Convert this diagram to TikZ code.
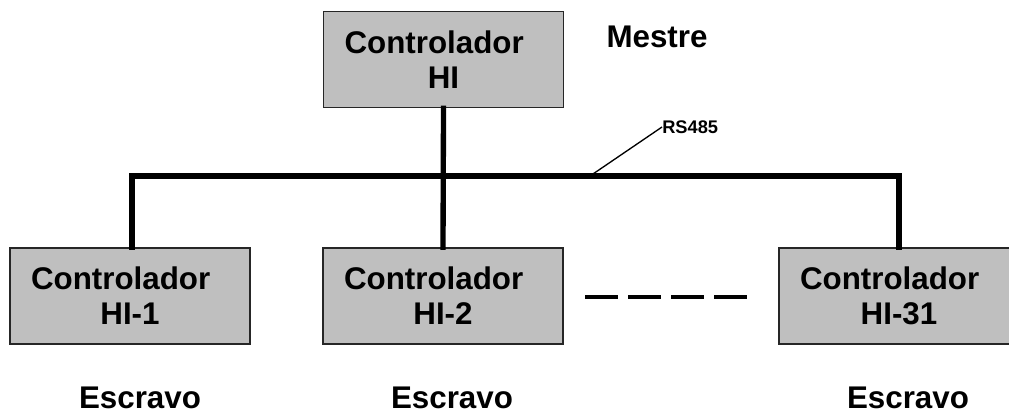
\documentclass[tikz,border=0pt]{standalone}
\usepackage{fontspec}
\setmainfont{Liberation Sans}
\begin{document}
\begin{tikzpicture}[x=0.75pt,y=-0.75pt,
  ctrl/.style={draw=black!85, line width=1.3pt, fill=black!25, minimum width=180pt, minimum height=72pt,
    inner sep=0pt, align=center, font=\bfseries\fontsize{23.5}{26.3}\selectfont},
  lbl/.style={inner sep=0pt, font=\bfseries\fontsize{23.5}{26.3}\selectfont},
  bus/.style={line width=4pt, line cap=rect, line join=miter},
  leader/.style={line width=1pt}]
\useasboundingbox (0,0) rectangle (1009,415);
\clip (0,0) rectangle (1009,415);
\node[ctrl] (T) at (443.5,59.5) {Controlador\rule{14pt}{0pt}\\HI};
\node[ctrl] (L) at (130,296) {Controlador\rule{14pt}{0pt}\\HI-1};
\node[ctrl] (M) at (443,296) {Controlador\rule{14pt}{0pt}\\HI-2};
\node[ctrl] (R) at (899,296) {Controlador\rule{14pt}{0pt}\\HI-31};
\node[lbl] (mestre) at (657,37) {Mestre};
\node[lbl] (e1) at (140,398) {Escravo};
\node[lbl] (e2) at (452,398) {Escravo};
\node[lbl] (e3) at (908,398) {Escravo};
\node[inner sep=0pt, anchor=west, font=\bfseries\fontsize{13.7}{16}\selectfont] (rs) at (662,127) {RS485};
\coordinate (busy) at (0,176);
\coordinate (tap) at (590,176);
\draw[bus] (T.south) -- (M.north);
\draw[bus] ([xshift=1.5pt]L.north) -- ([xshift=1.5pt]L.north |- busy) -- (R.north |- busy) -- (R.north);
\draw[leader] (tap) -- (rs.west);
\coordinate (d1) at (585,297);
\coordinate (d2) at (749,297);
\draw[line width=3pt, dash pattern=on 24.75pt off 7.5pt] (d1) -- (d2);
\end{tikzpicture}
\end{document}
